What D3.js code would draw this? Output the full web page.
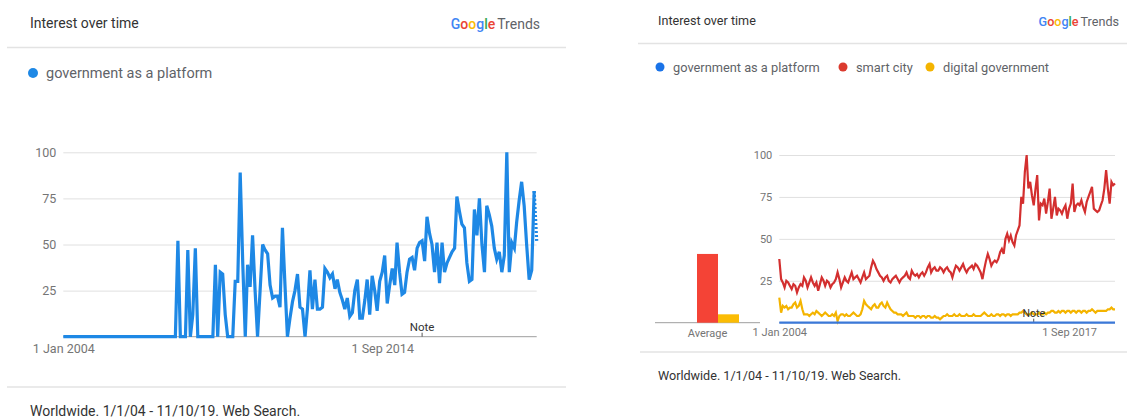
<!DOCTYPE html>
<html>
<head>
<meta charset="utf-8">
<script src="https://cdn.jsdelivr.net/npm/d3@7"></script>
<style>
  body { margin: 0; background: #fff; }
  svg text { font-family: Roboto, "Noto Sans", sans-serif; }
</style>
</head>
<body>
<div id="chart"></div>
<script>
// ---- data (monthly, Jan 2004 .. Nov 2019, last month partial) ----
const months = d3.timeMonths(new Date(2004, 0, 1), new Date(2019, 11, 1));

const terms = ["government as a platform", "smart city", "digital government"];

// left chart: "government as a platform" alone
const gaapSolo = [
  0,0,0,0,0,0,0,0,0,0, 0,0,0,0,0,0,0,0,0,0,
  0,0,0,0,0,0,0,0,0,0, 0,0,0,0,0,0,0,0,0,0,
  0,0,0,0,0,0,52,0,0,0,
  47,0,12,48,0,0,0,0,0,0,
  0,39,0,35,34,12,0,0,0,30,
  30,89,40,0,39,27,55,25,0,25,
  50,47,45,28,21,22,22,16,59,28,
  0,10,19,25,34,16,15,0,15,36,
  15,31,15,15,16,37,35,32,34,26,
  31,24,20,15,21,11,13,25,31,10,
  10,20,31,12,33,25,14,30,35,44,
  18,28,37,28,51,35,23,24,35,42,
  43,36,48,51,52,41,65,56,50,35,
  51,29,51,35,40,43,46,48,76,68,
  61,59,40,30,31,69,55,75,50,35,
  71,66,60,48,42,46,35,44,100,35,
  51,48,62,74,84,71,50,31,36,79,
  52
];

// right chart: comparison
const gaapCompared = [
  0,0,0,0,0,0,0,0,0,0,0,0,0,0,0,0,0,0,0,0,
  0,0,0,0,0,0,0,0,0,0,0,0,0,0,0,0,0,0,0,0,
  0,0,0,0,0,0,0,0,0,0,0,0,0,0,0,0,0,0,0,0,
  0,0,0,0,0,0,0,0,0,0,0,0,0,0,0,0,0,0,0,0,
  0,0,0,0,0,0,0,0,0,0,0,0,0,0,0,0,0,0,0,0,
  0,0,0,0,0,0,0,0,0,0,0,0,0,0,0,0,0,0,0,0,
  0,0,0,0,0,0,0,0,0,0,0,0,0,0,0,0,0,0,0,0,
  0,0,0,0,0,0,0,0,0,0,0,0,0,0,0,0,0,0,0,0,
  0,0,0,0,0,0,0,0,0,0,0,0,0,0,0,0,0,0,0,0,
  0,0,0,0,0,0,0,0,0,0,0
];

const smartCity = [
  38,26,24,21,25,24,22,20,23,22,
  18,21,23,22,27,25,21,24,27,24,
  22,24,19,23,27,25,22,25,24,21,
  23,24,26,30,26,21,24,27,25,24,
  27,30,26,27,28,26,24,27,30,26,
  27,28,33,37,35,32,30,28,27,25,
  27,28,25,24,26,27,28,26,24,26,
  27,28,30,27,26,31,29,28,29,27,
  29,30,28,30,33,35,30,32,33,31,
  31,33,32,30,32,33,31,30,27,31,
  34,33,31,33,35,32,30,32,33,34,
  32,35,34,32,30,26,32,37,41,38,
  34,36,37,36,38,42,44,41,50,53,
  49,52,48,46,52,55,58,75,71,90,
  100,80,84,76,70,80,88,61,71,70,
  74,65,72,80,62,68,75,64,68,67,
  65,68,70,62,68,71,83,66,70,71,
  70,73,69,66,72,75,78,81,68,67,
  66,67,70,73,80,91,80,71,84,82,
  83
];

const digitalGov = [
  15,6,10,9,10,8,9,9,11,12,
  9,10,13,8,5,5,5,4,5,6,
  5,7,6,5,4,5,6,5,4,4,
  5,4,6,1,4,5,5,4,5,4,
  4,5,6,5,4,4,5,8,13,11,
  10,9,8,10,11,9,9,11,12,10,
  9,12,10,8,7,6,6,5,5,5,
  4,5,6,4,4,4,4,3,4,4,
  3,4,4,3,4,4,3,3,4,3,
  3,2,3,4,4,5,4,4,4,5,
  4,4,5,4,4,4,5,4,4,4,
  5,4,4,4,4,5,6,5,4,4,
  5,4,4,5,5,4,5,5,4,5,
  5,4,5,5,5,5,6,6,7,6,
  5,5,5,6,5,5,5,6,5,5,
  6,5,6,6,7,7,6,6,7,6,
  7,7,6,7,7,6,7,7,6,7,
  7,6,7,7,6,7,7,8,7,6,
  7,7,7,7,7,7,8,8,9,8,
  8
];

const averages = [0, 41, 5];

const yTicks = [25, 50, 75, 100];
const leftTickDates = [new Date(2004, 0, 1), new Date(2014, 8, 1)];
const leftTickLabels = ["1 Jan 2004", "1 Sep 2014"];
const rightTickDates = [new Date(2004, 0, 1), new Date(2017, 8, 1)];
const rightTickLabels = ["1 Jan 2004", "1 Sep 2017"];
const noteDate = new Date(2016, 0, 1);
const footerText = "Worldwide. 1/1/04 - 11/10/19. Web Search.";

// ---- styles ----
const colors = ["#3b78d8", "#d32f2f", "#f4b400"];
const soloBlue = "#1e88e5";

const svg = d3.select("#chart").append("svg")
  .attr("width", 1127)
  .attr("height", 418)
  .style("background", "white");

function googleTrends(xEnd, y, size) {
  const t = svg.append("text")
    .attr("x", xEnd).attr("y", y)
    .attr("text-anchor", "end")
    .attr("font-size", size);
  const letters = [["G", "#4285f4"], ["o", "#ea4335"], ["o", "#fbbc05"], ["g", "#4285f4"], ["l", "#34a853"], ["e", "#ea4335"]];
  letters.forEach(([c, col]) => t.append("tspan").attr("fill", col).attr("font-weight", 500).text(c));
  t.append("tspan").attr("dx", 2).attr("fill", "#5f6368").text("Trends");
}

function header(x, y, size, sepY, sepX0, sepX1, logoX) {
  svg.append("text")
    .attr("x", x).attr("y", y)
    .attr("font-size", size)
    .attr("fill", "#333")
    .text("Interest over time");
  googleTrends(logoX, y + 1, size);
  svg.append("line")
    .attr("x1", sepX0).attr("x2", sepX1)
    .attr("y1", sepY).attr("y2", sepY)
    .attr("stroke", "#e3e3e3").attr("stroke-width", 1.5);
}

function footer(x, y, size, sepY, sepX0, sepX1) {
  svg.append("line")
    .attr("x1", sepX0).attr("x2", sepX1)
    .attr("y1", sepY).attr("y2", sepY)
    .attr("stroke", "#e3e3e3").attr("stroke-width", 1.5);
  svg.append("text")
    .attr("x", x).attr("y", y)
    .attr("font-size", size)
    .attr("fill", "#333")
    .text(footerText);
}

function gridAndAxes(x, y, tickDates, tickLabels, fontSize, pad) {
  const [x0, x1] = x.range();
  const yAxis = svg.append("g")
    .attr("transform", `translate(${x0},0)`)
    .call(d3.axisLeft(y).tickValues(yTicks).tickSize(-(x1 - x0)).tickPadding(7));
  yAxis.select(".domain").remove();
  yAxis.selectAll("line").attr("stroke", "#e0e0e0");
  yAxis.selectAll("text").attr("font-size", fontSize).attr("fill", "#757575")
    .style("font-family", "Roboto, sans-serif");

  svg.append("line")
    .attr("x1", x0).attr("x2", x1)
    .attr("y1", y(0)).attr("y2", y(0))
    .attr("stroke", "#9e9e9e");

  const xAxis = svg.append("g")
    .attr("transform", `translate(0,${y(0)})`)
    .call(d3.axisBottom(x).tickValues(tickDates)
      .tickFormat((d, i) => tickLabels[i]).tickSize(0).tickPadding(pad));
  xAxis.select(".domain").remove();
  xAxis.selectAll("text").attr("font-size", fontSize).attr("fill", "#757575")
    .style("font-family", "Roboto, sans-serif");
}

function note(x, y, fontSize) {
  const nx = x(noteDate);
  svg.append("line")
    .attr("x1", nx).attr("x2", nx)
    .attr("y1", y(0) - 4).attr("y2", y(0))
    .attr("stroke", "#555");
  svg.append("text")
    .attr("x", nx).attr("y", y(0) - 6)
    .attr("text-anchor", "middle")
    .attr("font-size", fontSize)
    .attr("fill", "#333")
    .text("Note");
}

// =====================
// LEFT PANEL
// =====================
header(30, 28, 14, 47.5, 7, 566, 540);

svg.append("circle").attr("cx", 33).attr("cy", 73).attr("r", 5).attr("fill", soloBlue);
svg.append("text").attr("x", 46).attr("y", 78).attr("font-size", 14.5).attr("fill", "#5f6368").text(terms[0]);

const xL = d3.scaleTime().domain([months[0], months[months.length - 1]]).range([63.3, 536.7]);
const yL = d3.scaleLinear().domain([0, 100]).range([336.7, 152.3]);

gridAndAxes(xL, yL, leftTickDates, leftTickLabels, 12.5, 7);

const lineL = d3.line().x((d, i) => xL(months[i])).y(d => yL(d));
const solidL = gaapSolo.slice(0, gaapSolo.length - 1);
svg.append("path")
  .attr("d", lineL(solidL))
  .attr("fill", "none")
  .attr("stroke", soloBlue)
  .attr("stroke-width", 3.2);

// last (partial) month dashed
const lastL = gaapSolo.length - 1;
svg.append("path")
  .attr("d", d3.line()([[xL(months[lastL - 1]), yL(gaapSolo[lastL - 1])], [xL(months[lastL]), yL(gaapSolo[lastL])]]))
  .attr("fill", "none")
  .attr("stroke", soloBlue)
  .attr("stroke-width", 3.2)
  .attr("stroke-dasharray", "2,2");

note(xL, yL, 11.5);

footer(30, 416, 14, 387, 7, 566);

// =====================
// RIGHT PANEL
// =====================
header(658, 25, 12.6, 43.5, 638, 1127, 1119);

const legendX = [660, 843, 930];
const legendColors = ["#1a73e8", "#db3a2e", "#f4b400"];
terms.forEach((t, i) => {
  svg.append("circle").attr("cx", legendX[i]).attr("cy", 67).attr("r", 4.5).attr("fill", legendColors[i]);
  svg.append("text").attr("x", legendX[i] + 13).attr("y", 71.5)
    .attr("font-size", 12.8).attr("fill", "#5f6368").text(t);
});

const xR = d3.scaleTime().domain([months[0], months[months.length - 1]]).range([779.3, 1115]);
const yR = d3.scaleLinear().domain([0, 100]).range([322.7, 155]);

gridAndAxes(xR, yR, rightTickDates, rightTickLabels, 11, 6);

// average bars
const band = d3.scaleBand().domain(terms).range([676, 739]).padding(0);
svg.append("line")
  .attr("x1", 655).attr("x2", 760)
  .attr("y1", yR(0)).attr("y2", yR(0))
  .attr("stroke", "#9e9e9e");
svg.selectAll(".avg")
  .data(averages)
  .join("rect")
  .attr("class", "avg")
  .attr("x", (d, i) => band(terms[i]))
  .attr("width", band.bandwidth())
  .attr("y", d => yR(d))
  .attr("height", d => yR(0) - yR(d))
  .attr("fill", (d, i) => ["#4285f4", "#f44336", "#fbbc04"][i]);
svg.append("text")
  .attr("x", 676 + (739 - 676) / 2)
  .attr("y", 336.5)
  .attr("text-anchor", "middle")
  .attr("font-size", 11)
  .attr("fill", "#757575")
  .text("Average");

const lineR = d3.line().x((d, i) => xR(months[i])).y(d => yR(d));
[digitalGov, smartCity].forEach((s, k) => {
  svg.append("path")
    .attr("d", lineR(s))
    .attr("fill", "none")
    .attr("stroke", k === 0 ? colors[2] : colors[1])
    .attr("stroke-width", 2.2);
});

note(xR, yR, 10.5);

svg.append("path")
  .attr("d", lineR(gaapCompared))
  .attr("fill", "none")
  .attr("stroke", colors[0])
  .attr("stroke-width", 2.2);

footer(658, 380, 12.6, 352, 640, 1127);
</script>
</body>
</html>
